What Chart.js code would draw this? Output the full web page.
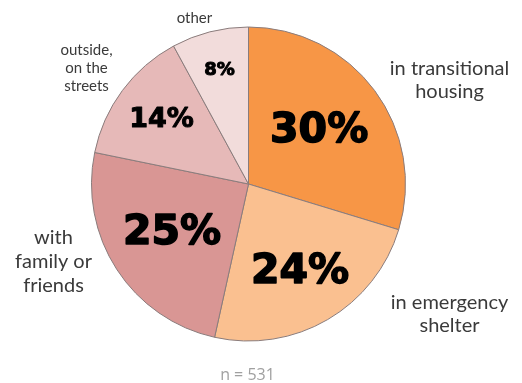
<!DOCTYPE html>
<html>
<head>
<meta charset="utf-8">
<script src="https://cdn.jsdelivr.net/npm/chart.js@4/dist/chart.umd.min.js"></script>
<style>
  html, body { margin: 0; padding: 0; background: #fff; }
  #wrap { width: 522px; height: 383px; }
</style>
</head>
<body>
<div id="wrap"><canvas id="pie" width="522" height="383"></canvas></div>
<script>
// data
const categories = ["in transitional housing", "in emergency shelter", "with family or friends", "outside, on the streets", "other"];
const percents = [30, 24, 25, 14, 8];
const sampleNote = "n = 531";

// styling
const sliceColors = ["#f79646", "#fac090", "#d99694", "#e6b9b8", "#f2dcdb"];
const labelLines = [["in transitional", "housing"], ["in emergency", "shelter"], ["with", "family or", "friends"], ["outside,", "on the", "streets"], ["other"]];
const pctFont = [41, 41, 41, 27, 18];
const pctRadius = [0.56, 0.65, 0.58, 0.69, 0.75];
// outside label centres, relative to pie centre (px)
const outerOffset = [[201, -104], [201, 130], [-195, 78], [-162, -116], [-54, -166]];
const outerFont = [20, 20, 20, 15, 15];
const outerLine = [23, 23, 24, 18, 18];

const labelPlugin = {
  id: "sliceLabels",
  afterDatasetsDraw(chart) {
    const ctx = chart.ctx;
    const arcs = chart.getDatasetMeta(0).data;
    ctx.save();
    ctx.textAlign = "center";
    ctx.textBaseline = "middle";
    arcs.forEach((arc, i) => {
      const mid = (arc.startAngle + arc.endAngle) / 2;
      const r = arc.outerRadius * pctRadius[i];
      const px = arc.x + Math.cos(mid) * r;
      const py = arc.y + Math.sin(mid) * r;
      ctx.fillStyle = "#000";
      ctx.strokeStyle = "#000";
      ctx.lineWidth = pctFont[i] > 30 ? 1.6 : 1;
      ctx.lineJoin = "round";
      ctx.font = "bold " + pctFont[i] + "px 'DejaVu Sans', sans-serif";
      ctx.fillText(percents[i] + "%", px, py);
      ctx.strokeText(percents[i] + "%", px, py);

      ctx.fillStyle = "#3a3a3a";
      ctx.font = outerFont[i] + "px 'Lato', sans-serif";
      const lines = labelLines[i];
      const cx = arc.x + outerOffset[i][0];
      const cy = arc.y + outerOffset[i][1];
      lines.forEach((t, k) => {
        ctx.fillText(t, cx, cy + (k - (lines.length - 1) / 2) * outerLine[i]);
      });
    });
    const c = arcs[0];
    ctx.fillStyle = "#a0a0a0";
    ctx.font = "16px 'Open Sans', sans-serif";
    ctx.fillText(sampleNote, c.x - 1, c.y + 191);
    ctx.restore();
  }
};

new Chart(document.getElementById("pie"), {
  type: "pie",
  data: {
    labels: categories,
    datasets: [{
      data: percents,
      backgroundColor: sliceColors,
      borderColor: "#8a7c7c",
      borderWidth: 1
    }]
  },
  options: {
    responsive: false,
    animation: false,
    layout: { padding: { top: 26, bottom: 41, left: 91, right: 116 } },
    plugins: {
      legend: { display: false },
      tooltip: { enabled: false }
    }
  },
  plugins: [labelPlugin]
});
</script>
</body>
</html>
